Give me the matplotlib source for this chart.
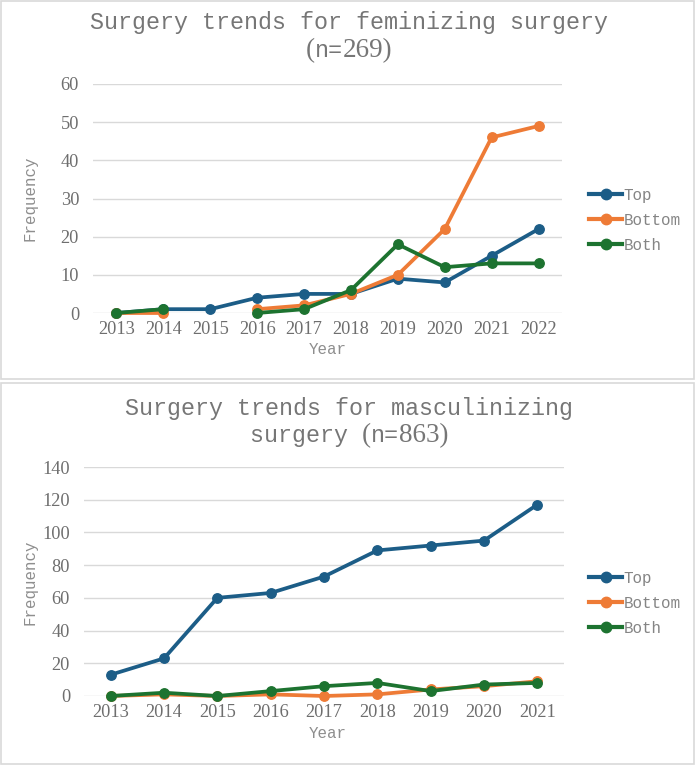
import numpy as np
import matplotlib
matplotlib.use("Agg")
import matplotlib.pyplot as plt
from matplotlib.lines import Line2D
from matplotlib.patches import Rectangle

# ---- data ----
fem_years = ["2013", "2014", "2015", "2016", "2017", "2018", "2019", "2020", "2021", "2022"]
fem_top = [0, 1, 1, 4, 5, 5, 9, 8, 15, 22]
fem_bottom = [0, 0, np.nan, 1, 2, 5, 10, 22, 46, 49]
fem_both = [0, 1, np.nan, 0, 1, 6, 18, 12, 13, 13]
fem_yticks = [0, 10, 20, 30, 40, 50, 60]

mas_years = ["2013", "2014", "2015", "2016", "2017", "2018", "2019", "2020", "2021"]
mas_top = [13, 23, 60, 63, 73, 89, 92, 95, 117]
mas_bottom = [0, 1, 0, 1, 0, 1, 4, 6, 9]
mas_both = [0, 2, 0, 3, 6, 8, 3, 7, 8]
mas_yticks = [0, 20, 40, 60, 80, 100, 120, 140]

series_names = ["Top", "Bottom", "Both"]
colors = ["#1c5d87", "#ee7b36", "#1d7330"]

W, H = 696, 766
fig = plt.figure(figsize=(W / 100, H / 100), dpi=100)
fig.patch.set_facecolor("white")

MONO = "Liberation Mono"
SERIF = "Liberation Serif"
TITLE_C = "#767676"
TICK_C = "#6e6e6e"
LAB_C = "#8e8e8e"
LEG_C = "#858585"

def px(x, y):
    return x / W, 1 - y / H

# panel borders
for (y0, y1) in [(1, 379), (383, 764)]:
    fig.add_artist(Rectangle((1 / W, 1 - y1 / H), (W - 3) / W, (y1 - y0) / H,
                             transform=fig.transFigure, fill=False,
                             edgecolor="#d9d9d9", linewidth=1.2))

renderer = fig.canvas.get_renderer()

def mixed_title(parts, cx, base_y):
    """parts: list of (text, family, size). Drawn side by side on a common baseline."""
    texts = []
    widths = []
    for s, fam, size in parts:
        t = fig.text(0, 0, s, ha="left", va="baseline", family=fam,
                     fontsize=size, color=TITLE_C)
        bb = t.get_window_extent(renderer=renderer)
        texts.append(t)
        widths.append(bb.width)
    total = sum(widths)
    x = cx - total / 2
    for t, w in zip(texts, widths):
        fx, fy = px(x, base_y)
        t.set_position((fx, fy))
        x += w

def panel(x0, x1, ytop, ybot, years, data, yticks, title_parts, title_y,
          xlab_y, ylab_c, leg_top):
    ax = fig.add_axes([x0 / W, 1 - ybot / H, (x1 - x0) / W, (ybot - ytop) / H])
    xs = np.arange(len(years))
    for vals, name, c in zip(data, series_names, colors):
        ax.plot(xs, vals, color=c, lw=2.7, marker="o", ms=6.8, label=name,
                clip_on=False, solid_capstyle="round", zorder=3)
    ax.set_xlim(-0.5, len(years) - 0.5)
    ax.set_ylim(yticks[0], yticks[-1])
    ax.set_yticks(yticks)
    ax.set_xticks(xs)
    ax.set_xticklabels(years)
    for s in ax.spines.values():
        s.set_visible(False)
    ax.tick_params(axis="both", length=0, labelsize=13.2, labelcolor=TICK_C)
    ax.tick_params(axis="y", pad=10)
    ax.tick_params(axis="x", pad=6)
    for lab in ax.get_xticklabels() + ax.get_yticklabels():
        lab.set_family(SERIF)
    ax.grid(axis="y", color="#d9d9d9", lw=1.0)
    ax.set_axisbelow(True)
    for parts, ty in zip(title_parts, title_y):
        mixed_title(parts, 349, ty)
    fx, fy = px(328, xlab_y)
    fig.text(fx, fy, "Year", ha="center", va="center", family=MONO,
             fontsize=11.4, color=LAB_C)
    fx, fy = px(30, ylab_c)
    fig.text(fx, fy, "Frequency", ha="center", va="center", rotation=90,
             family=MONO, fontsize=11.4, color=LAB_C)
    handles = [Line2D([], [], color=c, lw=3.0, marker="o", ms=7.5) for c in colors]
    lx, ly = px(589, leg_top)
    leg = fig.legend(handles, series_names, loc="upper left",
                     bbox_to_anchor=(lx, ly), bbox_transform=fig.transFigure,
                     frameon=False, borderpad=0, borderaxespad=0,
                     handlelength=2.1, handletextpad=0.1, labelspacing=0.62,
                     prop={"family": MONO, "size": 11.4})
    for t in leg.get_texts():
        t.set_color(LEG_C)
    return ax

TS = 16.8
SS = 19.5
panel(93, 562, 84, 313, fem_years, [fem_top, fem_bottom, fem_both], fem_yticks,
      [[("Surgery trends for feminizing surgery", MONO, TS)],
       [("(", SERIF, SS), ("n=", MONO, TS), ("269)", SERIF, SS)]],
      [29, 57], 350, 198, 188)

panel(84, 564, 467, 696, mas_years, [mas_top, mas_bottom, mas_both], mas_yticks,
      [[("Surgery trends for masculinizing", MONO, TS)],
       [("surgery ", MONO, TS), ("(", SERIF, SS), ("n=", MONO, TS), ("863)", SERIF, SS)]],
      [415, 442], 733, 582, 571)

fig.savefig("out.png", dpi=100)
